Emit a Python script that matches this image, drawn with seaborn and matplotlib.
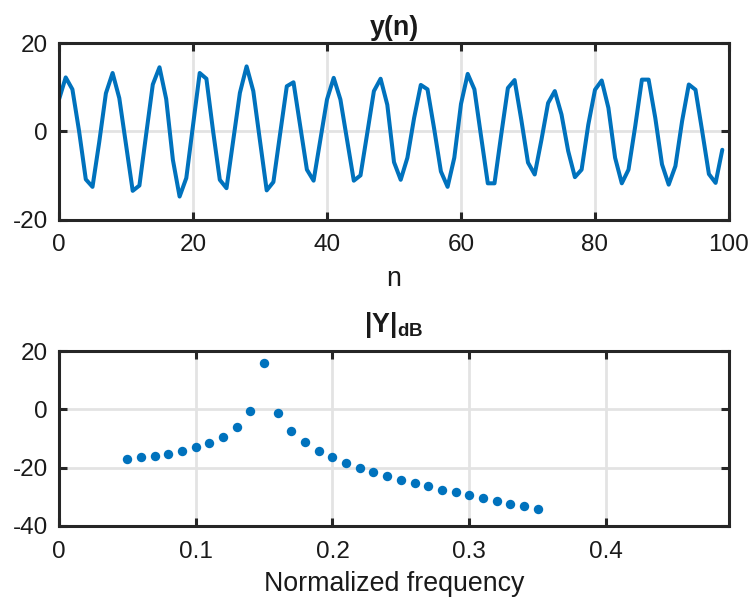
import numpy as np
import pandas as pd
import matplotlib
matplotlib.use("Agg")
import matplotlib.pyplot as plt
import seaborn as sns

# ---- data ----
n_idx = list(range(100))
y_vals = [7.2, 12.2, 9.5, 0.0, -10.9, -12.6, -2.5, 8.6, 13.2, 7.5,
          -3.0, -13.5, -12.3, -0.8, 10.6, 14.5, 7.3, -6.5, -14.8, -10.6,
          1.3, 13.2, 11.9, 0.0, -11.0, -12.9, -2.1, 8.7, 14.7, 9.1,
          -2.2, -13.4, -11.5, -0.6, 10.2, 11.1, 1.2, -8.7, -11.2, -2.0,
          7.2, 12.1, 7.2, -2.0, -11.2, -10.0, -0.5, 9.1, 11.9, 6.0,
          -7.0, -11.0, -6.0, 3.0, 10.5, 9.5, 0.5, -9.1, -12.6, -6.0,
          6.2, 13.0, 9.5, -1.2, -11.8, -11.8, -0.8, 9.8, 11.6, 2.6,
          -7.1, -9.8, -2.0, 6.4, 9.1, 3.8, -4.5, -10.4, -8.7, 1.5,
          9.4, 11.5, 5.3, -6.0, -11.8, -8.7, 1.1, 11.7, 11.7, 3.0,
          -7.5, -12.1, -7.9, 2.3, 10.6, 9.4, 0.0, -9.7, -11.7, -4.2]

freqs = [0.05, 0.06, 0.07, 0.08, 0.09, 0.10, 0.11, 0.12, 0.13, 0.14,
         0.15, 0.16, 0.17, 0.18, 0.19, 0.20, 0.21, 0.22, 0.23, 0.24,
         0.25, 0.26, 0.27, 0.28, 0.29, 0.30, 0.31, 0.32, 0.33, 0.34, 0.35]
mag_db = [-17.0, -16.4, -16.0, -15.2, -14.3, -13.0, -11.5, -9.4, -6.2, -0.6,
          15.75, -1.2, -7.5, -11.3, -14.2, -16.4, -18.5, -20.1, -21.6, -22.8,
          -24.2, -25.3, -26.3, -27.5, -28.4, -29.3, -30.5, -31.4, -32.3, -33.1, -34.0]

top_xticks = [0, 20, 40, 60, 80, 100]
top_yticks = [-20, 0, 20]
bot_xticks = [0, 0.1, 0.2, 0.3, 0.4]
bot_yticks = [-40, -20, 0, 20]

# ---- style ----
sns.set_theme(style="whitegrid")
plt.rcParams['font.family'] = ['Liberation Sans', 'DejaVu Sans']
plt.rcParams['mathtext.fontset'] = 'custom'
plt.rcParams['mathtext.rm'] = 'Liberation Sans'
plt.rcParams['mathtext.bf'] = 'Liberation Sans:bold'
plt.rcParams['mathtext.it'] = 'Liberation Sans:italic'

BLUE = '#0072BD'
SPINE = '#262626'
GRID = '#e3e3e3'
FS = 17.5
LFS = 19.3

fig = plt.figure(figsize=(7.5, 6.04), dpi=100)
ax1 = fig.add_axes([59/750, 1-219.5/604, 670/750, 176.5/604])
ax2 = fig.add_axes([59/750, 1-526/604, 670/750, 175/604])

df1 = pd.DataFrame({'n': n_idx, 'y': y_vals})
sns.lineplot(data=df1, x='n', y='y', ax=ax1, color=BLUE, linewidth=2.9)

df2 = pd.DataFrame({'f': freqs, 'db': mag_db})
sns.scatterplot(data=df2, x='f', y='db', ax=ax2, color=BLUE, s=46,
                linewidth=0, zorder=3)

def style(ax, xticks, yticks, xlim, ylim):
    ax.set_xlim(*xlim)
    ax.set_ylim(*ylim)
    ax.set_xticks(xticks)
    ax.set_yticks(yticks)
    ax.set_xticklabels([('%g' % t) for t in xticks])
    ax.set_yticklabels([('%g' % t) for t in yticks])
    ax.set_facecolor('white')
    ax.grid(True, color=GRID, linewidth=2.0)
    ax.set_axisbelow(True)
    for sp in ax.spines.values():
        sp.set_visible(True)
        sp.set_color(SPINE)
        sp.set_linewidth(2.2)
    ax.tick_params(axis='both', which='both', direction='in', length=6,
                   width=2.2, color=SPINE, labelsize=FS, labelcolor='#1a1a1a',
                   top=True, right=True, bottom=True, left=True)
    ax.tick_params(axis='x', pad=10.5)
    ax.tick_params(axis='y', pad=8)

style(ax1, top_xticks, top_yticks, (0, 100), (-20, 20))
style(ax2, bot_xticks, bot_yticks, (0, 0.49), (-40, 20))

ax1.set_title('y(n)', fontsize=LFS, fontweight='bold', pad=6, color='#1a1a1a')
ax1.set_xlabel('n', fontsize=LFS, labelpad=7, color='#1a1a1a')
ax1.set_ylabel('')
ax2.set_title(r'$\mathbf{|Y|_{dB}}$', fontsize=LFS, pad=14, color='#1a1a1a')
ax2.set_xlabel('Normalized frequency', fontsize=LFS, labelpad=6, color='#1a1a1a')
ax2.set_ylabel('')

fig.savefig('out.png', dpi=100, facecolor='white')
